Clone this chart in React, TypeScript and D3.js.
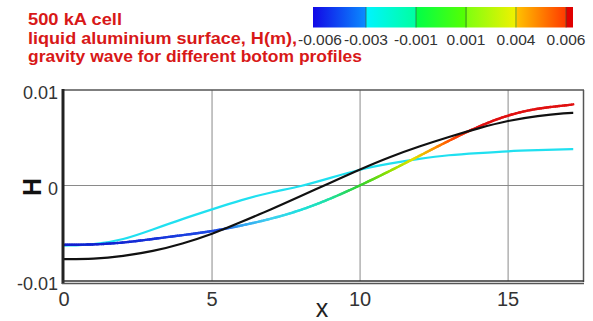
import React from "react";
import * as d3 from "d3";

const xValues = [0, 1, 2, 3, 4, 5, 6, 7, 8, 9, 10, 11, 12, 13, 14, 15, 16, 17, 17.2];
const blackSeries = [-0.0077, -0.0077, -0.0074, -0.0069, -0.0061, -0.0051, -0.0038, -0.0025, -0.0011, 0.0003, 0.0017, 0.003, 0.0041, 0.0051, 0.006, 0.0068, 0.0073, 0.0076, 0.0076];
const cyanSeries = [-0.0063, -0.0062, -0.0057, -0.0046, -0.0035, -0.0025, -0.0015, -0.0007, -0.0001, 0.0008, 0.0017, 0.0023, 0.0028, 0.0032, 0.0034, 0.0036, 0.0037, 0.0038, 0.0038];
const coloredSeries = [-0.0062, -0.0062, -0.006, -0.0056, -0.0052, -0.0048, -0.0042, -0.0035, -0.0026, -0.0014, 0.0, 0.0015, 0.0031, 0.0047, 0.0062, 0.0074, 0.0081, 0.0084, 0.0085];

const xTicks = [0, 5, 10, 15];
const yTicks = [-0.01, 0, 0.01];
const yTickLabels = ["-0.01", "0", "0.01"];
const legendLevels = [-0.006, -0.003, -0.001, 0.001, 0.004, 0.006];
const legendLabels = ["-0.006", "-0.003", "-0.001", "0.001", "0.004", "0.006"];
const titleLines = ["500 kA cell", "liquid aluminium surface, H(m),", "gravity wave for different botom profiles"];
const titleWidths = [94, 269, 334];

// colormap stops: [position (0..1 along legend bar), color]
const barStops: [number, string][] = [
  [0, "#1208e6"],
  [0.204, "#0a8cff"],
  [0.205, "#00f4ff"],
  [0.396, "#00ffa0"],
  [0.397, "#00ff48"],
  [0.592, "#58ff00"],
  [0.593, "#80ff10"],
  [0.785, "#f4f000"],
  [0.786, "#ffc000"],
  [0.972, "#ff3a00"],
  [0.973, "#e00000"],
  [1, "#e00000"],
];

const lineColorDomain = [-0.0065, -0.0062, -0.0046, -0.0042, -0.0035, -0.0026, -0.0014, 0.0, 0.0015, 0.0028, 0.004, 0.005, 0.006, 0.0065];
const lineColorRange = ["#1020c8", "#1020d0", "#2050e8", "#30a0f0", "#40d0f0", "#20e0e0", "#20e0a0", "#30d030", "#90e000", "#e0e000", "#ff9000", "#ff4000", "#e81818", "#e01010"];

export default function App() {
  const W = 593;
  const H = 321;
  const x = d3.scaleLinear().domain([0, 17.53]).range([64, 583]);
  const y = d3.scaleLinear().domain([-0.01, 0.01]).range([281, 90]);
  const lineColorScale = d3.scaleLinear<string>().domain(lineColorDomain).range(lineColorRange).clamp(true);

  const line = d3
    .line<[number, number]>()
    .x((d) => x(d[0]))
    .y((d) => y(d[1]))
    .curve(d3.curveBasis);

  const blackPts = xValues.map((v, i) => [v, blackSeries[i]] as [number, number]);
  const cyanPts = xValues.map((v, i) => [v, cyanSeries[i]] as [number, number]);
  const colPts = xValues.map((v, i) => [v, coloredSeries[i]] as [number, number]);

  const colPath = line(colPts) || "";
  const segs: { d: string; c: string }[] = [];
  if (typeof document !== "undefined") {
    const ns = "http://www.w3.org/2000/svg";
    const svgTmp = document.createElementNS(ns, "svg");
    const pathEl = document.createElementNS(ns, "path");
    pathEl.setAttribute("d", colPath);
    svgTmp.style.position = "absolute";
    svgTmp.style.visibility = "hidden";
    svgTmp.appendChild(pathEl);
    document.body.appendChild(svgTmp);
    const L = pathEl.getTotalLength();
    const n = 300;
    const fine: [number, number][] = [];
    for (let i = 0; i <= n; i++) {
      const p = pathEl.getPointAtLength((L * i) / n);
      fine.push([p.x, p.y]);
    }
    document.body.removeChild(svgTmp);
    for (let i = 0; i < fine.length - 1; i++) {
      const a = fine[i];
      const b = fine[i + 1];
      const v = y.invert((a[1] + b[1]) / 2);
      segs.push({ d: `M${a[0]},${a[1]}L${b[0]},${b[1]}`, c: lineColorScale(v) });
    }
  }

  const barX0 = 313;
  const barX1 = 573;
  const legendPos = d3.scaleLinear().domain([0, 5]).range([316, 566]);

  return (
    <svg width={W} height={H} style={{ position: "absolute", left: 0, top: 0 }} fontFamily="Liberation Sans, Arial, sans-serif">
      <defs>
        <linearGradient id="cbar" x1="0" x2="1" y1="0" y2="0">
          {barStops.map(([o, c], i) => (
            <stop key={i} offset={o} stopColor={c} />
          ))}
        </linearGradient>
      </defs>
      <rect x={0} y={0} width={W} height={H} fill="#ffffff" />

      {/* title */}
      {titleLines.map((t, i) => (
        <text key={i} x={28} y={25 + i * 18.5} fill="#d81818" fontSize={16.5} fontWeight="bold" textLength={titleWidths[i]} lengthAdjust="spacingAndGlyphs">
          {t}
        </text>
      ))}

      {/* color legend */}
      <rect x={barX0} y={7} width={barX1 - barX0} height={20.5} fill="url(#cbar)" />
      {legendLevels.slice(1).map((_, i) => (
        <line key={i} x1={legendPos(i + 1)} x2={legendPos(i + 1)} y1={7} y2={27.5} stroke="#3a5a3a" strokeOpacity={0.7} strokeWidth={1} />
      ))}
      {legendLabels.map((t, i) => (
        <text key={i} x={legendPos(i) + (i === 0 ? 4 : 0)} y={45} textAnchor="middle" fontSize={15.5} fill="#333">
          {t}
        </text>
      ))}

      {/* grid */}
      {xTicks.slice(1).map((t) => (
        <line key={t} x1={x(t)} x2={x(t)} y1={90} y2={281} stroke="#8a8a8a" strokeWidth={1} />
      ))}
      <line x1={64} x2={583} y1={y(0)} y2={y(0)} stroke="#8a8a8a" strokeWidth={1} />

      {/* curves */}
      <path d={line(cyanPts) || ""} fill="none" stroke="#20e0f0" strokeWidth={2.2} />
      {segs.map((s, i) => (
        <path key={i} d={s.d} fill="none" stroke={s.c} strokeWidth={2.4} strokeLinecap="round" />
      ))}
      <path d={line(blackPts) || ""} fill="none" stroke="#111" strokeWidth={2.2} />

      {/* frame */}
      <line x1={64} x2={584} y1={90} y2={90} stroke="#555" strokeWidth={1.5} />
      <line x1={583.5} x2={583.5} y1={90} y2={282} stroke="#555" strokeWidth={1.5} />
      <line x1={63} x2={63} y1={89} y2={284} stroke="#222" strokeWidth={3} />
      <line x1={62} x2={584} y1={281} y2={281} stroke="#333" strokeWidth={1.6} />
      <line x1={62} x2={584} y1={283.5} y2={283.5} stroke="#555" strokeWidth={1.4} />

      {/* y ticks */}
      {yTicks.map((t, i) => (
        <text key={t} x={58} y={y(t) + 9} textAnchor="end" fontSize={18} fill="#333">
          {yTickLabels[i]}
        </text>
      ))}
      {/* x ticks */}
      {xTicks.map((t) => (
        <text key={t} x={x(t)} y={306} textAnchor="middle" fontSize={20} fill="#333">
          {t}
        </text>
      ))}

      {/* axis titles */}
      <text x={322} y={317} textAnchor="middle" fontSize={25} fill="#222">
        x
      </text>
      <text transform={`translate(41,187) rotate(-90)`} textAnchor="middle" fontSize={25} fontWeight="bold" fill="#111">
        H
      </text>
    </svg>
  );
}
